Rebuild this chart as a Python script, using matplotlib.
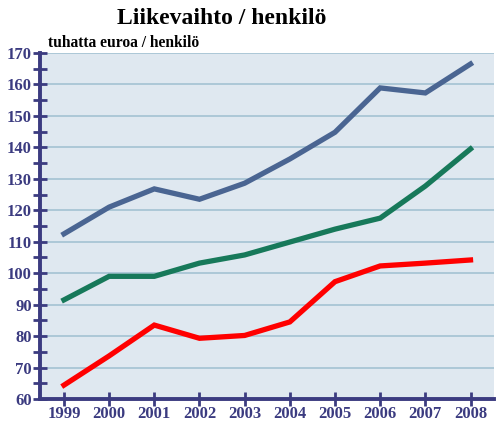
import matplotlib
matplotlib.use("Agg")
import matplotlib.pyplot as plt
from matplotlib.ticker import MultipleLocator

years = [1999, 2000, 2001, 2002, 2003, 2004, 2005, 2006, 2007, 2008]
blue = [112.5, 121.0, 126.8, 123.5, 128.6, 136.3, 144.8, 158.9, 157.3, 166.5]
green = [91.5, 99.0, 99.0, 103.2, 105.8, 109.9, 114.0, 117.5, 127.7, 139.5]
red = [64.4, 73.7, 83.5, 79.3, 80.2, 84.5, 97.3, 102.3, 103.2, 104.2]

W, H = 496, 421
AXC = "#3b3b80"
plt.rcParams['font.family'] = ['Liberation Serif', 'DejaVu Serif']

fig = plt.figure(figsize=(W / 100, H / 100), dpi=100)
ax = fig.add_axes([40 / W, 22 / H, 454 / W, 346 / H])
ax.set_facecolor("#dfe8f0")

ax.plot(years, blue, color="#4a6592", lw=3.8, solid_joinstyle="miter", zorder=3)
ax.plot(years, green, color="#17795a", lw=3.8, solid_joinstyle="miter", zorder=3)
ax.plot(years, red, color="#ff0000", lw=3.8, solid_joinstyle="miter", zorder=3)

ax.set_xlim(1998.47, 2008.52)
ax.set_ylim(60, 170)
ax.set_xticks(years)
ax.yaxis.set_major_locator(MultipleLocator(10))
ax.yaxis.set_minor_locator(MultipleLocator(5))
ax.grid(axis="y", which="major", color="#a3c2d2", lw=1.2, zorder=1)

for s in ["top", "right"]:
    ax.spines[s].set_visible(False)
for s in ["left", "bottom"]:
    ax.spines[s].set_color(AXC)
    ax.spines[s].set_linewidth(2.8)
    ax.spines[s].set_zorder(4)

ax.tick_params(axis="both", which="both", direction="inout", color=AXC, width=2)
ax.tick_params(axis="y", which="both", length=10)
ax.tick_params(axis="x", which="major", length=10)
ax.tick_params(axis="x", which="minor", bottom=False)
ax.tick_params(labelcolor=AXC, labelsize=12)
for lab in ax.get_xticklabels() + ax.get_yticklabels():
    lab.set_fontweight("bold")
ax.tick_params(axis="y", pad=1)
ax.tick_params(axis="x", pad=0)

fig.text(222 / W, 1 - 18 / H, "Liikevaihto / henkilö", ha="center", va="center",
         fontsize=17, fontweight="bold")
fig.text(48 / W, 1 - 43 / H, "tuhatta euroa / henkilö", ha="left", va="center",
         fontsize=11.2, fontweight="bold")

fig.savefig("out.png", dpi=100)
